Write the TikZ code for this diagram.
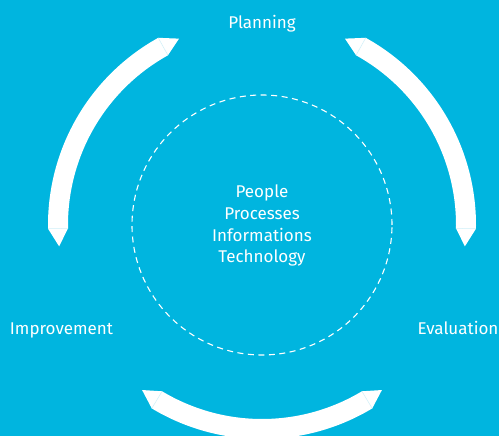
\documentclass[tikz,border=0pt]{standalone}
\usepackage{fontspec}
\setmainfont{Fira Sans}
\definecolor{bg}{HTML}{00B5DF}
\definecolor{seamc}{HTML}{CFEFF8}
\begin{document}
\begin{tikzpicture}[
  lbl/.style={text=white, inner sep=0pt, font=\fontsize{17}{20}\selectfont, anchor=base},
  band/.style={fill=white},
  seam/.style={draw=seamc, line width=0.5pt},
  ring/.style={draw=white, line width=1.1pt, dash pattern=on 6pt off 4.5pt}
]
\fill[bg] (0pt,0pt) rectangle (499pt,436pt);
\useasboundingbox (0pt,0pt) rectangle (499pt,436pt);
\clip (0pt,0pt) rectangle (499pt,436pt);
\begin{scope}[shift={(262pt,211pt)}]
  \coordinate (c) at (0pt,0pt);
  \draw[ring] (c) circle[radius=130pt];
  \foreach \m in {30,150,270}{
    \pgfmathsetmacro{\aa}{\m-31}
    \pgfmathsetmacro{\ab}{\m+31}
    \fill[band] (\aa:214pt) arc[start angle=\aa, end angle=\ab, radius=214pt]
      -- (\ab+5:204pt) -- (\ab:194pt)
      arc[start angle=\ab, end angle=\aa, radius=194pt]
      -- (\aa-5:204pt) -- cycle;
    \draw[seam] (\aa:214pt) -- (\aa:194pt);
    \draw[seam] (\ab:214pt) -- (\ab:194pt);
  }
\end{scope}
\node[lbl] (planning) at (262pt,407pt) {Planning};
\node[lbl] (improvement) at (61.5pt,101pt) {Improvement};
\node[lbl] (evaluation) at (458pt,101pt) {Evaluation};
\node[lbl] (people) at (262pt,238.7pt) {People};
\node[lbl] (processes) at (262pt,216.7pt) {Processes};
\node[lbl] (informations) at (262pt,194.5pt) {Informations};
\node[lbl] (technology) at (262pt,173.3pt) {Technology};
\end{tikzpicture}
\end{document}
